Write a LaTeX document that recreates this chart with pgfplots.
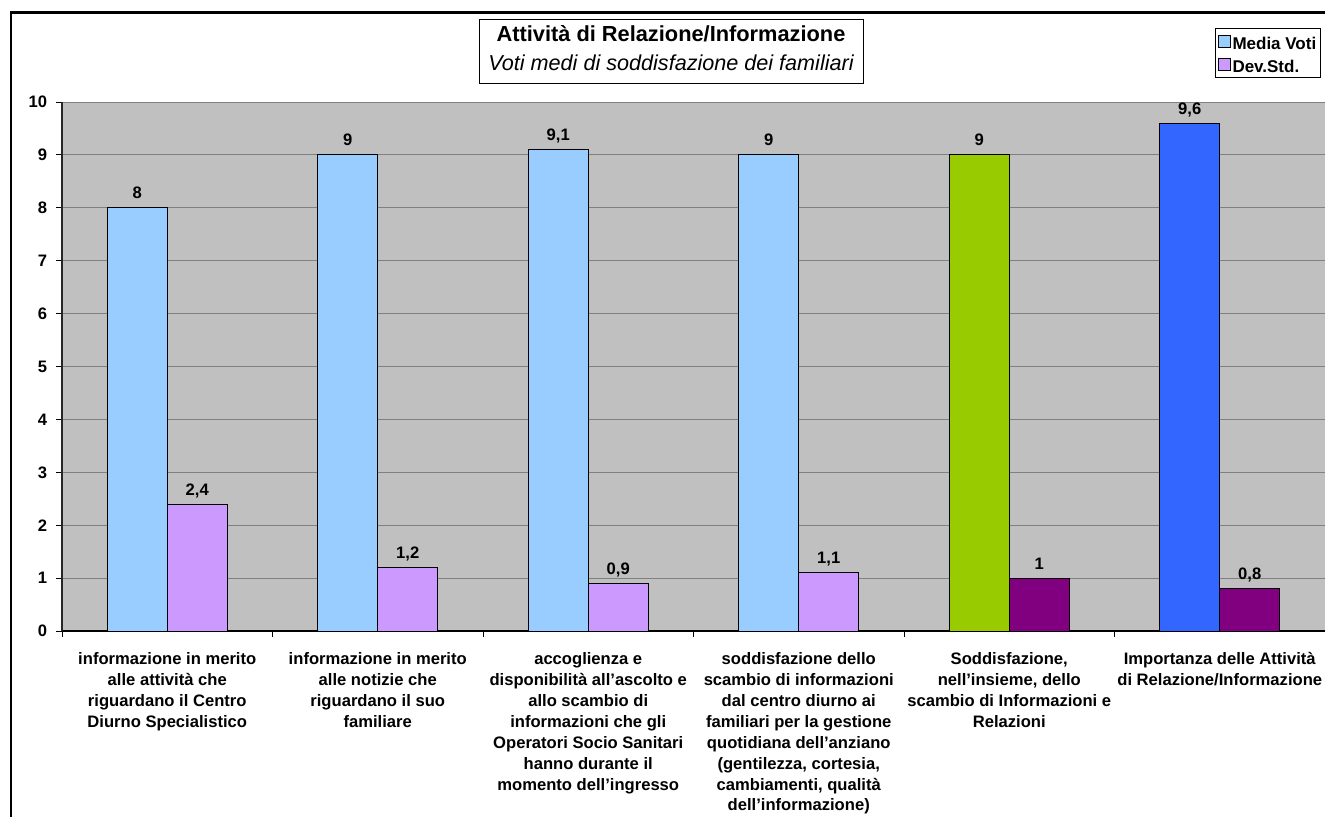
\documentclass[border=0pt]{standalone}
\usepackage{fontspec}
\setmainfont{Liberation Sans}
\usepackage{pgfplots}
\pgfplotsset{compat=1.18}

\definecolor{plotgray}{HTML}{C0C0C0}
\definecolor{gridgray}{HTML}{808080}
\definecolor{mvLight}{HTML}{99CCFF}
\definecolor{dsLight}{HTML}{CC99FF}
\definecolor{mvGreen}{HTML}{99CC00}
\definecolor{mvBlue}{HTML}{3366FF}
\definecolor{dsPurple}{HTML}{800080}

\newcommand{\lblfont}{\fontsize{8.3}{10.45}\selectfont\bfseries}

\pgfplotsset{
  % bar series with its own offset inside the category; #1 = shift
  mybar/.style={
    ybar, bar width=30pt, draw=black, line width=0.5pt,
    bar shift=#1,
    legend image code/.code={\draw[##1, draw=black, line width=0.5pt] (0pt,-3pt) rectangle (6pt,3pt);},
    nodes near coords,
    every node near coord/.append style={font=\lblfont, anchor=base, inner sep=0pt, yshift=4.5pt, xshift=#1, text=black},
  },
}

\begin{document}
\begin{tikzpicture}
\clip (0,0) rectangle (662.5pt,408pt);
\fill[white] (0,0) rectangle (662.5pt,408pt);

% chart frame (left and top edges)
\draw[line width=1.15pt, black] (5.65pt,-5pt) -- (5.65pt,401.75pt) -- (680pt,401.75pt);

% title box
\draw[line width=0.5pt] (239.5pt,366.25pt) rectangle (431.5pt,398.25pt);
\node[anchor=base, inner sep=0pt, font=\fontsize{10.9}{13}\selectfont\bfseries] at (335.5pt,387pt) {Attività di Relazione/Informazione};
\node[anchor=base, inner sep=0pt, font=\fontsize{10.8}{13}\selectfont\itshape] at (335.5pt,373pt) {Voti medi di soddisfazione dei familiari};

\begin{axis}[
  at={(31pt,92.5pt)}, anchor=south west,
  scale only axis, width=631.5pt, height=264.5pt,
  xmin=-0.5, xmax=5.5, ymin=0, ymax=10,
  axis lines*=left,
  x axis line style={line width=0.6pt, black},
  y axis line style={line width=0.7pt, black!85},
  axis background/.style={fill=plotgray},
  ytick={0,1,...,10},
  ymajorgrids,
  grid style={gridgray, line width=0.5pt},
  tick align=outside,
  major tick length=3pt,
  tick style={black, line width=0.5pt},
  /pgf/number format/.cd, use comma, fixed, precision=1, assume math mode=true,
  /pgfplots/.cd,
  yticklabel style={font=\lblfont, inner sep=0pt, anchor=east, xshift=-4.3pt},
  xtick={0,1,2,3,4,5},
  major x tick style={draw=none},
  extra x ticks={-0.5,0.5,1.5,2.5,3.5,4.5},
  extra x tick labels={},
  extra x tick style={major x tick style={draw=black, line width=0.5pt}, grid=none},
  xticklabel style={font=\lblfont, align=center, anchor=north, inner sep=0pt, yshift=-7.6pt},
  xticklabels={
    {informazione in merito\\alle attività che\\riguardano il Centro\\Diurno Specialistico},
    {informazione in merito\\alle notizie che\\riguardano il suo\\familiare},
    {accoglienza e\\disponibilità all'ascolto e\\allo scambio di\\informazioni che gli\\Operatori Socio Sanitari\\hanno durante il\\momento dell’ingresso},
    {soddisfazione dello\\scambio di informazioni\\dal centro diurno ai\\familiari per la gestione\\quotidiana dell’anziano\\(gentilezza, cortesia,\\cambiamenti, qualità\\dell’informazione)},
    {Soddisfazione,\\nell'insieme, dello\\scambio di Informazioni e\\Relazioni},
    {Importanza delle Attività\\di Relazione/Informazione}
  },
  legend style={
    at={(rel axis cs:0.9129,1.1399)}, anchor=north west,
    draw=black, line width=0.5pt, fill=white,
    font=\fontsize{8.5}{10}\selectfont\bfseries,
    inner xsep=1pt, inner ysep=1.5pt, row sep=1.5pt,
    nodes={inner xsep=1pt, inner ysep=0.5pt, text height=8.55pt, text depth=0.45pt},
  },
  legend cell align=left,
]
\addplot[mybar=-15pt, fill=mvLight] coordinates {(0,8) (1,9) (2,9.1) (3,9)};
\addplot[mybar=15pt, fill=dsLight] coordinates {(0,2.4) (1,1.2) (2,0.9) (3,1.1)};
\addplot[mybar=-15pt, fill=mvGreen, forget plot] coordinates {(4,9)};
\addplot[mybar=-15pt, fill=mvBlue, forget plot] coordinates {(5,9.6)};
\addplot[mybar=15pt, fill=dsPurple, forget plot] coordinates {(4,1) (5,0.8)};
\legend{Media Voti, Dev.Std.}
\end{axis}
\end{tikzpicture}
\end{document}
